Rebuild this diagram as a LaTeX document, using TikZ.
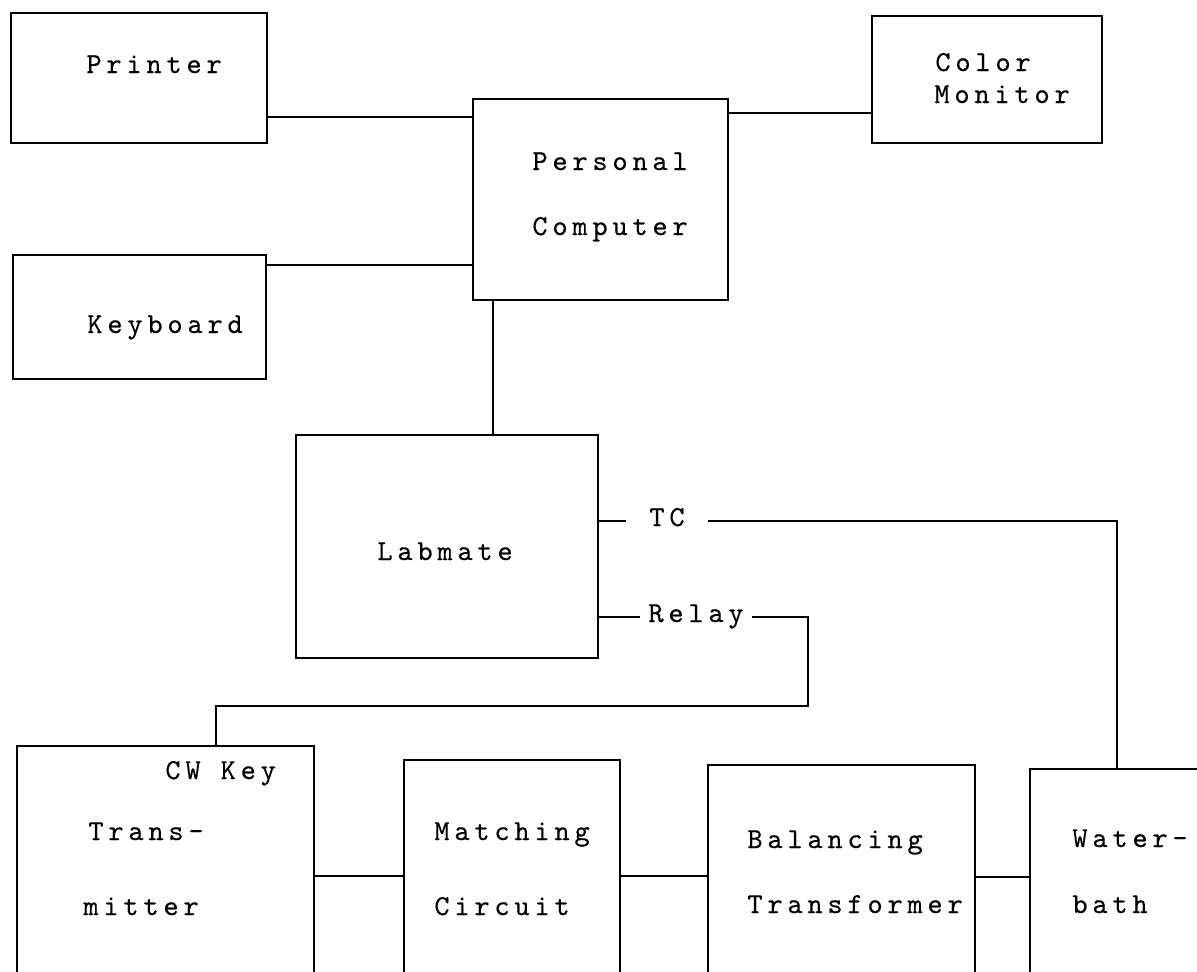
\documentclass[tikz,border=0pt]{standalone}
\usepackage{fontspec}
\newfontfamily\tw{lmmono10-regular.otf}[LetterSpace=16.5,FakeBold=0.35]
\begin{document}
\begin{tikzpicture}[x=0.5pt,y=-0.5pt,
  box/.style={draw,line width=1.2pt,inner sep=0pt},
  txt/.style={inner sep=0pt,anchor=base west,font=\tw\fontsize{14.5pt}{17pt}\selectfont},
  lab/.style={inner ysep=0pt,text height=5pt,text depth=0pt,anchor=base west,font=\tw\fontsize{14.5pt}{17pt}\selectfont},
  wire/.style={line width=1.2pt}]
\useasboundingbox (0,0) rectangle (1197,971);
% boxes
\node[box,minimum width=128pt,minimum height=65pt] (printer) at (139,78) {};
\node[box,minimum width=126.5pt,minimum height=62pt] (keyboard) at (139.5,317) {};
\node[box,minimum width=127.5pt,minimum height=100.5pt] (pc) at (600.5,199.5) {};
\node[box,minimum width=115pt,minimum height=63.5pt] (monitor) at (987,79.5) {};
\node[box,minimum width=151pt,minimum height=111.5pt] (labmate) at (447,546.5) {};
\node[box,minimum width=148.5pt,minimum height=150pt] (trans) at (165.5,896) {};
\node[box,minimum width=108pt,minimum height=150pt] (match) at (512,910) {};
\node[box,minimum width=133.5pt,minimum height=150pt] (bal) at (841.5,915) {};
\node[box,minimum width=135pt,minimum height=150pt] (water) at (1165,919) {};
% texts
\node[txt] (tprinter) at (86,73) {Printer};
\node[txt] (tkeyboard) at (87,333) {Keyboard};
\node[txt] (tpers) at (532,170) {Personal};
\node[txt] (tcomp) at (532,235) {Computer};
\node[txt] (tcolor) at (935,71) {Color};
\node[txt] (tmon) at (934,103) {Monitor};
\node[txt] (tlab) at (377,560) {Labmate};
\node[txt] (tcw) at (165,779) {CW Key};
\node[txt] (ttrans) at (88,840) {Trans-};
\node[txt] (tmitter) at (83,915) {mitter};
\node[txt] (tmatch) at (434,840) {Matching};
\node[txt] (tcirc) at (434,915) {Circuit};
\node[txt] (tbal) at (747,848) {Balancing};
\node[txt] (ttrf) at (747,913) {Transformer};
\node[txt] (twater) at (1072,847) {Water-};
\node[txt] (tbath) at (1072,913) {bath};
% connector labels
\node[lab,inner xsep=11.5pt] (tc) at (626,526) {TC};
\node[lab,inner xsep=4pt] (relay) at (640,622) {Relay};
% connectors
\draw[wire] (printer.east |- 0,117) -- (pc.west |- 0,117);
\draw[wire] (keyboard.east |- 0,265) -- (pc.west |- 0,265);
\draw[wire] (pc.east |- 0,113) -- (monitor.west |- 0,113);
\draw[wire] (pc.south -| 493,0) -- (labmate.north -| 493,0);
\draw[wire] (labmate.east |- tc.west) -- (tc.west);
\draw[wire] (tc.east) -| (water.north -| 1117,0);
\draw[wire] (labmate.east |- relay.west) -- (relay.west);
\coordinate (rc) at (808,706);
\draw[wire] (relay.east) -| (rc) -| (trans.north -| 216,0);
\draw[wire] (trans.east |- 0,876) -- (match.west |- 0,876);
\draw[wire] (match.east |- 0,876) -- (bal.west |- 0,876);
\draw[wire] (bal.east |- 0,877) -- (water.west |- 0,877);
\end{tikzpicture}
\end{document}
